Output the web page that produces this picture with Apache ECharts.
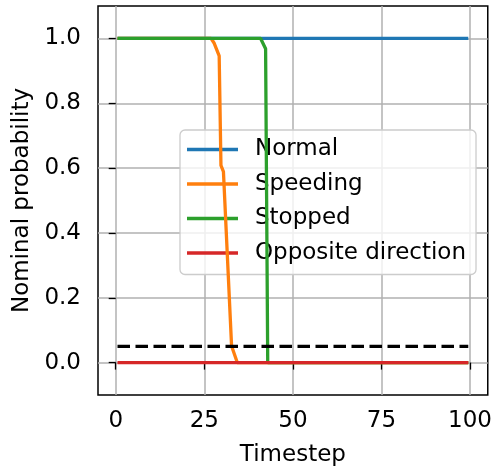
<!DOCTYPE html>
<html>
<head>
<meta charset="utf-8">
<script src="https://cdn.jsdelivr.net/npm/echarts@6/dist/echarts.min.js"></script>
<style>html,body{margin:0;padding:0;background:#fff}#c{width:495px;height:472px}</style>
</head>
<body>
<div id="c"></div>
<script>
// ---- data ----
const seriesNames = ['Normal', 'Speeding', 'Stopped', 'Opposite direction'];
const normalPts = [[0.5, 1.0], [99.5, 1.0]];
const speedingPts = [[0.5, 1.0], [26.9, 1.0], [27.8, 0.985], [29.2, 0.946], [29.7, 0.608], [30.4, 0.589], [32.7, 0.051], [34.3, 0.0], [99.5, 0.0]];
const stoppedPts = [[0.5, 1.0], [40.9, 1.0], [42.3, 0.968], [42.9, 0.0], [99.5, 0.0]];
const oppositePts = [[0.5, 0.0], [99.5, 0.0]];
const thresholdPts = [[0.5, 0.05], [99.5, 0.05]];
const xTicks = [0, 25, 50, 75, 100];
const yTicks = [0.0, 0.2, 0.4, 0.6, 0.8, 1.0];
const xTitle = 'Timestep';
const yTitle = 'Nominal probability';

const colors = ['#1f77b4', '#ff7f0e', '#2ca02c', '#d62728'];
const FONT = 'DejaVu Sans';
const FS = 23;

const chart = echarts.init(document.getElementById('c'), null, {renderer: 'canvas'});
const lineSeries = [normalPts, speedingPts, stoppedPts, oppositePts].map((d, i) => ({
  name: seriesNames[i], type: 'line', data: d, symbol: 'none', animation: false,
  lineStyle: {color: colors[i], width: 3.3}, itemStyle: {color: colors[i]}, z: 3 + i
}));
lineSeries.push({
  name: 'threshold', type: 'line', data: thresholdPts, symbol: 'none', animation: false,
  lineStyle: {color: '#000', width: 3.3, type: [12.5, 5.5]}, z: 8
});

chart.setOption({
  animation: false,
  grid: {left: 98, right: 3.5, top: 6, bottom: 75, show: true, borderColor: '#000', borderWidth: 1.5, containLabel: false},
  xAxis: {
    type: 'value', min: -5, max: 105,
    name: xTitle, nameLocation: 'middle', nameGap: 49,
    nameTextStyle: {fontFamily: FONT, fontSize: FS, color: '#000'},
    axisLine: {show: false},
    axisTick: {show: true, length: 7, lineStyle: {color: '#000', width: 1.3}, customValues: xTicks},
    axisLabel: {fontFamily: FONT, fontSize: FS, color: '#000', margin: 15, customValues: xTicks, formatter: v => String(v)},
    splitLine: {show: true, lineStyle: {color: '#b0b0b0', width: 1.5}}
  },
  yAxis: {
    type: 'value', min: -0.1, max: 1.1,
    name: yTitle, nameLocation: 'middle', nameGap: 64,
    nameTextStyle: {fontFamily: FONT, fontSize: FS, color: '#000'},
    axisLine: {show: false},
    axisTick: {show: true, length: 7, lineStyle: {color: '#000', width: 1.3}, customValues: yTicks},
    axisLabel: {fontFamily: FONT, fontSize: FS, color: '#000', margin: 17, customValues: yTicks, formatter: v => v.toFixed(1)},
    splitLine: {show: true, lineStyle: {color: '#b0b0b0', width: 1.5}}
  },
  legend: {
    data: seriesNames, orient: 'vertical', left: 180, top: 130,
    icon: 'rect', itemWidth: 51, itemHeight: 3.3, itemGap: 11.5,
    padding: [8, 10, 10, 7],
    backgroundColor: 'rgba(255,255,255,0.8)', borderColor: '#cccccc', borderWidth: 1.3, borderRadius: 5,
    textStyle: {fontFamily: FONT, fontSize: FS, color: '#000', padding: [0, 0, 0, 12]},
    selectedMode: false
  },
  series: lineSeries
});
</script>
</body>
</html>
